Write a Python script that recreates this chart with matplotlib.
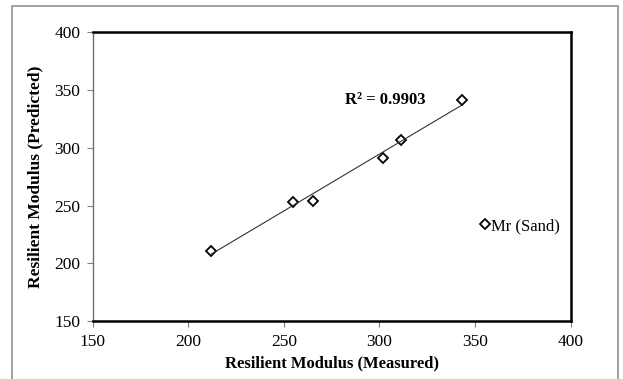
import numpy as np
import matplotlib.pyplot as plt
from matplotlib.patches import Rectangle

plt.rcParams['font.family'] = ['Liberation Serif', 'DejaVu Serif']

# values
measured = [212, 255, 265, 302, 311, 343]
predicted = [211, 253, 254, 291, 307, 341]
xticks = [150, 200, 250, 300, 350, 400]
yticks = [150, 200, 250, 300, 350, 400]
r2_label = "R² = 0.9903"
series_name = "Mr (Sand)"

fig = plt.figure(figsize=(6.23, 3.79), dpi=100)
ax = fig.add_axes([0.1488, 0.153, 0.7672, 0.7618])

# outer chart border
fig.patches.append(Rectangle((12 / 623, -0.01), 606 / 623, 1 - 6 / 379 + 0.01,
                             transform=fig.transFigure, fill=False,
                             edgecolor='#909090', lw=1.2))

ax.plot(measured, predicted, 'D', ms=5, mfc='white', mec='black', mew=1.3,
        label=series_name)

# linear trendline
m, b = np.polyfit(measured, predicted, 1)
xs = np.array([min(measured), max(measured)])
ax.plot(xs, m * xs + b, color='#333333', lw=0.8)

ax.text(303, 341, r2_label, fontsize=12, fontweight='bold', ha='center', va='center')

ax.set_xlim(150, 400)
ax.set_ylim(150, 400)
ax.set_xticks(xticks)
ax.set_yticks(yticks)
ax.tick_params(direction='out', length=4, width=0.8, color='#808080',
               labelsize=12.5, pad=5)

for side in ['top', 'right', 'bottom']:
    ax.spines[side].set_linewidth(1.8)
    ax.spines[side].set_color('black')
ax.spines['left'].set_linewidth(1.0)
ax.spines['left'].set_color('#707070')

ax.set_xlabel("Resilient Modulus (Measured)", fontsize=12, fontweight='bold', labelpad=4)
ax.set_ylabel("Resilient Modulus (Predicted)", fontsize=12.5, fontweight='bold', labelpad=8)

ax.legend(loc='center left', bbox_to_anchor=(0.792, 0.329), frameon=False,
          fontsize=12, handlelength=0.6, handletextpad=0.1, borderpad=0)

fig.savefig("out.png", dpi=100)
